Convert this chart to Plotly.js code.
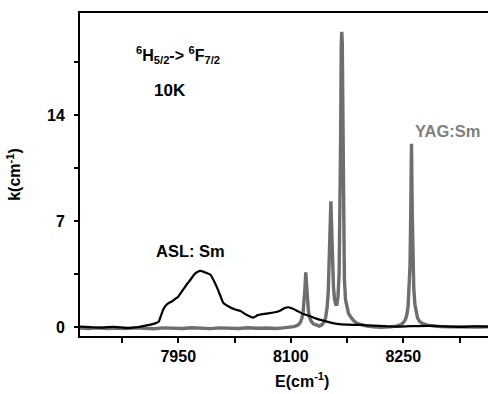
<!DOCTYPE html>
<html>
<head>
<meta charset="utf-8">
<script src="https://cdn.plot.ly/plotly-3.0.1.min.js"></script>
<style>html,body{margin:0;padding:0;background:#fff;overflow:hidden}#chart{width:488px;height:394px}</style>
</head>
<body>
<div id="chart"></div>
<script>
// YAG:Sm spectrum (grey)
const yagX = [7819,7830,7842,7855,7868,7880,7893,7905,7918,7930,7943,7955,7968,7980,7993,8005,8018,8030,8043,8055,8068,8080,8090,8098,8104,8108,8111,8113,8115,8116.5,8118,8119,8120,8121,8122,8123.5,8125,8127,8130,8134,8138,8141,8144,8146.5,8148.5,8150,8151.5,8152.5,8153.5,8154.5,8155.5,8157,8158.5,8160,8161.5,8163,8164.5,8165.5,8166.5,8167.3,8168,8168.7,8169.5,8170.5,8171.5,8173,8175,8177,8180,8184,8189,8195,8202,8210,8220,8232,8241,8247,8250,8253,8255,8256.5,8258,8259,8260,8261,8262,8263,8264,8265.5,8267,8269,8272,8276,8282,8290,8300,8312,8325,8338,8350,8363];
const yagY = [-0.08,-0.1,-0.06,-0.11,-0.07,-0.1,-0.05,-0.09,-0.12,-0.06,-0.09,-0.1,-0.05,-0.09,-0.11,-0.06,-0.08,-0.1,-0.05,-0.09,-0.07,-0.1,-0.06,-0.04,0.02,0.08,0.18,0.32,0.6,1.0,1.8,2.6,3.6,2.7,1.9,1.1,0.65,0.4,0.2,0.1,0.05,0.12,0.3,0.6,1.3,2.3,4.5,6.8,8.3,6.6,4.5,2.6,1.8,1.5,1.5,2.0,3.5,6.5,12.5,18.5,19.5,18.8,12.5,6.0,3.2,1.8,1.2,0.9,0.65,0.4,0.22,0.12,0.05,0.0,-0.03,0.0,0.05,0.15,0.28,0.5,0.85,1.4,2.5,4.0,7.5,12.1,7.5,4.2,2.6,1.5,1.0,0.6,0.35,0.22,0.12,0.06,0.02,0.0,-0.02,0.01,-0.01,0.0];

// ASL:Sm spectrum (black)
const aslX = [7819,7833,7846,7855,7863,7875,7886,7895,7903,7913,7920,7924,7927,7930,7934,7938,7942,7946,7950,7957,7962,7966,7972,7979,7986,7993,7998,8003,8007,8010,8019,8026,8033,8041,8050,8056,8063,8070,8077,8085,8092,8097,8103,8109,8117,8126,8134,8143,8152,8162,8175,8193,8210,8225,8242,8260,8286,8305,8326,8345,8363];
const aslY = [0.02,-0.02,-0.05,-0.02,0.0,-0.04,-0.07,-0.02,0.05,0.15,0.25,0.35,0.75,1.15,1.45,1.6,1.7,1.85,2.0,2.5,2.85,3.1,3.5,3.7,3.6,3.45,3.0,2.45,1.95,1.6,1.3,1.15,1.05,0.8,0.62,0.78,0.85,0.9,0.95,1.05,1.25,1.3,1.2,1.05,0.85,0.7,0.55,0.42,0.3,0.2,0.15,0.13,0.08,0.05,0.02,0.05,0.07,0.03,0.0,0.03,0.02];

const xTickVals = [7950, 8100, 8250];
const xTickText = ['7950', '8100', '8250'];
const yTickVals = [0, 7, 14];
const yTickText = ['0', '7', '14'];

const FONT = 'Arial, "Liberation Sans", sans-serif';
const bold = s => '<b>' + s + '</b>';

const traces = [
  {x: yagX, y: yagY, type: 'scatter', mode: 'lines', name: 'YAG:Sm',
   line: {color: '#6e6e6e', width: 3.4}, hoverinfo: 'skip'},
  {x: aslX, y: aslY, type: 'scatter', mode: 'lines', name: 'ASL: Sm',
   line: {color: '#000000', width: 2.2, shape: 'spline', smoothing: 0.5}, hoverinfo: 'skip'}
];

const layout = {
  width: 488, height: 394,
  margin: {l: 80, r: 0, t: 13, b: 58},
  paper_bgcolor: '#ffffff', plot_bgcolor: '#ffffff',
  showlegend: false,
  font: {family: FONT, size: 16, color: '#000', weight: 700},
  xaxis: {
    range: [7819, 8363],
    tickmode: 'array', tickvals: xTickVals, ticktext: xTickText.map(bold),
    ticks: 'outside', ticklen: 5, tickwidth: 2, tickcolor: '#000',
    minor: {tickmode: 'array', tickvals: [7875, 8025, 8175, 8325], ticks: 'outside', ticklen: 5, tickwidth: 2, tickcolor: '#000'},
    showline: true, linewidth: 2, linecolor: '#000', mirror: true,
    showgrid: false, zeroline: false,
    tickfont: {family: FONT, size: 16, color: '#000', weight: 700}
  },
  yaxis: {
    range: [-0.6, 20.74],
    tickmode: 'array', tickvals: yTickVals, ticktext: yTickText.map(bold),
    ticks: 'outside', ticklen: 4, tickwidth: 2, tickcolor: '#000',
    minor: {tickmode: 'array', tickvals: [3.5, 10.5, 17.5], ticks: 'outside', ticklen: 4, tickwidth: 2, tickcolor: '#000'},
    ticklabelstandoff: 6,
    showline: true, linewidth: 2, linecolor: '#000', mirror: false,
    showgrid: false, zeroline: false,
    tickfont: {family: FONT, size: 16, color: '#000', weight: 700},
    title: {text: bold('k(cm<sup>-1</sup>)'), standoff: 22, font: {family: FONT, size: 16, color: '#000', weight: 700}}
  },
  annotations: [
    {xref: 'paper', yref: 'paper', x: (302-80)/408, y: (336-380)/323, xanchor: 'center', yanchor: 'middle',
     text: bold('E(cm<sup>-1</sup>)'), showarrow: false, font: {family: FONT, size: 16, color: '#000', weight: 700}},
    {xref: 'paper', yref: 'paper', x: (178-80)/408, y: (336-55)/323, xanchor: 'center', yanchor: 'middle',
     text: bold('<sup>6</sup>H<sub>5/2</sub>-> <sup>6</sup>F<sub>7/2</sub>'), showarrow: false, font: {family: FONT, size: 16, color: '#000', weight: 700}},
    {xref: 'paper', yref: 'paper', x: (170-80)/408, y: (336-90.5)/323, xanchor: 'center', yanchor: 'middle',
     text: bold('10K'), showarrow: false, font: {family: FONT, size: 17, color: '#000', weight: 700}},
    {xref: 'paper', yref: 'paper', x: (190-80)/408, y: (336-251)/323, xanchor: 'center', yanchor: 'middle',
     text: bold('ASL: Sm'), showarrow: false, font: {family: FONT, size: 16.5, color: '#000', weight: 700}},
    {xref: 'paper', yref: 'paper', x: (447.5-80)/408, y: (336-130.5)/323, xanchor: 'center', yanchor: 'middle',
     text: bold('YAG:Sm'), showarrow: false, font: {family: FONT, size: 16.5, color: '#7f7f7f', weight: 700}}
  ]
};

Plotly.newPlot('chart', traces, layout, {staticPlot: true, displayModeBar: false});
</script>
</body>
</html>
